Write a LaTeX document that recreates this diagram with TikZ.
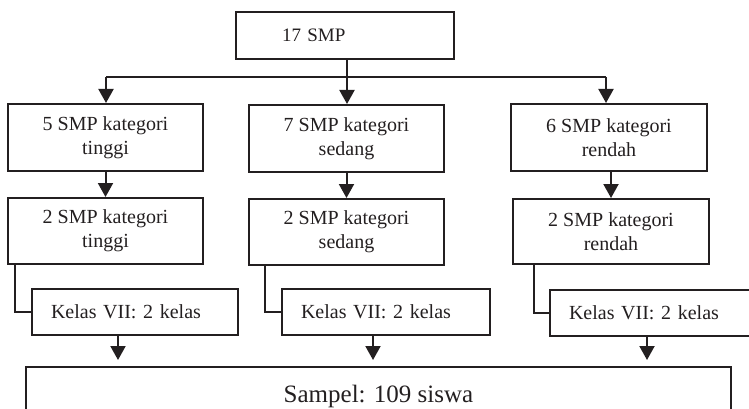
\documentclass[tikz,border=0pt]{standalone}
\usepackage{fontspec}
\setmainfont{Liberation Serif}
\usetikzlibrary{arrows.meta}
\definecolor{ink}{HTML}{231F20}
\begin{document}
\begin{tikzpicture}[x=1pt,y=-1pt,
  line width=2pt, draw=ink,
  box/.style={draw=ink, line width=2pt, inner sep=0pt, align=center, text=ink,
    font=\fontsize{20}{24}\selectfont},
  kbox/.style={box, minimum height=46pt, align=left, inner xsep=19pt},
  arr/.style={draw=ink, line width=2pt, -{Triangle[width=15pt,length=14pt]}},
  link/.style={draw=ink, line width=2pt}]
\useasboundingbox (0,0) rectangle (749,409);
\clip (0,0) rectangle (749,409);
% top
\node[box, minimum height=47pt, text width=126pt, inner xsep=46pt, align=left,
  font=\fontsize{19}{23}\selectfont] (top) at (345,35.5) {17 SMP};
% row 1
\node[box, minimum width=195pt, minimum height=67pt] (l1) at (105.5,137.5) {5 SMP kategori\\tinggi};
\node[box, minimum width=195pt, minimum height=67pt] (m1) at (346.5,138.5) {7 SMP kategori\\sedang};
\node[box, minimum width=196pt, minimum height=67pt] (r1) at (609,137.5) {6 SMP kategori\\rendah};
% row 2
\node[box, minimum width=195pt, minimum height=66pt] (l2) at (105.5,231) {2 SMP kategori\\tinggi};
\node[box, minimum width=195pt, minimum height=66pt] (m2) at (346.5,232) {2 SMP kategori\\sedang};
\node[box, minimum width=196pt, minimum height=65pt] (r2) at (611,231.5) {2 SMP kategori\\rendah};
% kelas
\node[kbox, text width=168pt] (k1) at (135,312) {Kelas VII: 2 kelas};
\node[kbox, text width=170pt] (k2) at (386,312) {Kelas VII: 2 kelas};
\node[kbox, text width=168pt] (k3) at (653,312.5) {Kelas VII: 2 kelas};
% bottom
\node[box, minimum width=705pt, minimum height=58pt, font=\fontsize{25}{30}\selectfont] (s) at (378.5,396) {Sampel: 109 siswa};
% bus
\coordinate (bus) at (347,77);
\coordinate (busL) at (106,77);
\coordinate (busR) at (606,77);
\draw[link] (top.south -| bus) -- (bus);
\draw[link] (busL) -- (busR);
\draw[arr] (busL) -- (busL |- l1.north);
\draw[arr] (bus) -- (bus |- m1.north);
\draw[arr] (busR) -- (busR |- r1.north);
% row1 -> row2
\draw[arr] (l1) -- (l2);
\draw[arr] (m1) -- (m2);
\draw[arr] (r2.north |- r1.south) -- (r2.north);
% L connectors
\draw[link] ([xshift=8pt]l2.south west) |- (k1.west);
\draw[link] ([xshift=17pt]m2.south west) |- (k2.west);
\draw[link] ([xshift=22pt]r2.south west) |- (k3.west);
% to sample
\coordinate (d1) at (118,360);
\coordinate (d2) at (373,360);
\coordinate (d3) at (647,360);
\draw[arr] (d1 |- k1.south) -- (d1);
\draw[arr] (d2 |- k2.south) -- (d2);
\draw[arr] (d3 |- k3.south) -- (d3);
\end{tikzpicture}
\end{document}
